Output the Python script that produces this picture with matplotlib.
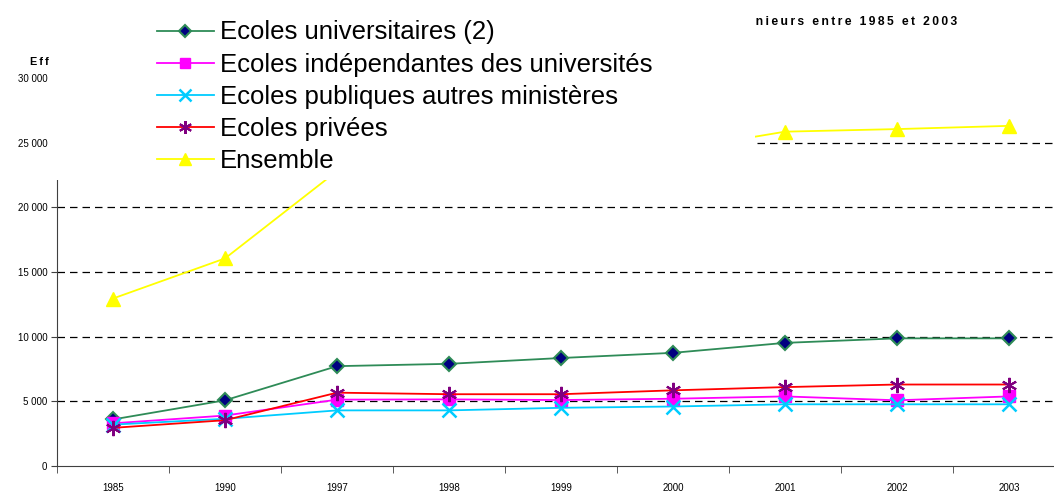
import matplotlib.pyplot as plt
from matplotlib.patches import Rectangle

plt.rcParams['font.family'] = ['Liberation Sans', 'DejaVu Sans']

# data
years = ['1985', '1990', '1997', '1998', '1999', '2000', '2001', '2002', '2003']
univ = [3600, 5080, 7720, 7900, 8350, 8750, 9520, 9870, 9870]
indep = [3300, 3900, 5130, 5150, 5100, 5200, 5380, 5080, 5380]
publiques = [3200, 3650, 4300, 4300, 4500, 4600, 4770, 4770, 4770]
privees = [2950, 3540, 5670, 5550, 5550, 5850, 6100, 6300, 6300]
ensemble = [12950, 16050, 22800, 22900, 23500, 24400, 25850, 26050, 26300]

fig = plt.figure(figsize=(10.54, 4.91), dpi=100)
ax = fig.add_axes([57 / 1054, 25 / 491, 1008 / 1054, 388 / 491])

x = range(len(years))
ax.plot(x, univ, color='#2E8B57', lw=1.3, marker='D', ms=7,
        mfc='#000080', mec='#2E8B57', mew=1.5, label='Ecoles universitaires (2)')
ax.plot(x, indep, color='#FF00FF', lw=1.3, marker='s', ms=8,
        mfc='#FF00FF', mec='#FF00FF', label='Ecoles indépendantes des universités')
ax.plot(x, publiques, color='#00CCFF', lw=1.3, marker='x', ms=10,
        mew=1.8, label='Ecoles publiques autres ministères')
ax.plot(x, privees, color='#FF0000', lw=1.3, marker=(6, 2, 0), ms=11,
        mec='#800080', mfc='#800080', mew=1.5, label='Ecoles privées')
ax.plot(x, ensemble, color='#FFFF00', lw=1.3, marker='^', ms=10,
        mfc='#FFFF00', mec='#FFFF00', label='Ensemble')

ax.set_xlim(-0.5, len(years) - 0.5)
ax.set_ylim(0, 30000)
ax.set_yticks(range(0, 30001, 5000))
ax.set_yticklabels([f'{v:,}'.replace(',', ' ') for v in range(0, 30001, 5000)], fontsize=7)
ax.set_xticks(list(x))
ax.set_xticklabels(years, fontsize=7)
ax.set_xticks([i + 0.5 for i in range(-1, len(years))], minor=True)
ax.tick_params(axis='x', which='major', length=0, pad=12)
ax.tick_params(axis='x', which='minor', length=5, color='#404040')
ax.tick_params(axis='y', length=4, color='#404040', pad=3)
for v in range(5000, 25001, 5000):
    ax.axhline(v, color='black', lw=0.9, ls=(0, (6, 4)), zorder=0)
for s in ['top', 'right']:
    ax.spines[s].set_visible(False)
for s in ['left', 'bottom']:
    ax.spines[s].set_color('#404040')


def spaced(s):
    return '\u2009'.join(s)


title = "Evolution des effectifs d'élèves ingénieurs entre 1985 et 2003"
fig.text(957 / 1054, 1 - 22 / 491, spaced(title), ha='right', va='center',
         fontsize=8.7, fontweight='bold')
fig.text(30 / 1054, 1 - 62 / 491, spaced('Effectifs'), ha='left', va='center',
         fontsize=7.8, fontweight='bold')

# white legend box covering the top left of the chart
fig.add_artist(Rectangle((50 / 1054, 1 - 180 / 491), 705 / 1054, 180 / 491,
                         transform=fig.transFigure, facecolor='white',
                         edgecolor='none', zorder=4))
leg = fig.legend(loc='upper left', bbox_to_anchor=(157 / 1054, 1 - 20.5 / 491),
                 frameon=False, fontsize=18.5, handlelength=2.2, handletextpad=0.25,
                 labelspacing=0.32, borderpad=0, borderaxespad=0, markerscale=0.85)
leg.set_zorder(5)

fig.savefig('out.png', dpi=100)
